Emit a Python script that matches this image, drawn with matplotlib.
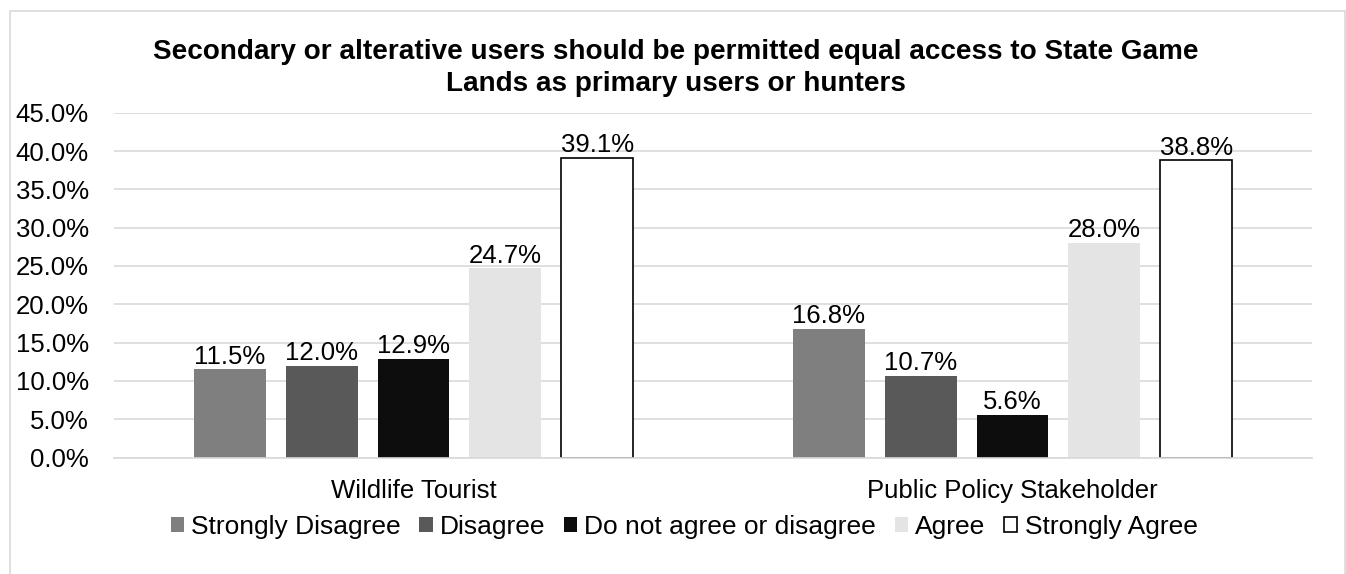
import numpy as np
import matplotlib
matplotlib.use("Agg")
import matplotlib.pyplot as plt
from matplotlib.patches import Rectangle

plt.rcParams['font.family'] = ['Liberation Sans', 'DejaVu Sans']

# survey responses (% of respondents)
groups = ['Wildlife Tourist', 'Public Policy Stakeholder']
responses = ['Strongly Disagree', 'Disagree', 'Do not agree or disagree',
             'Agree', 'Strongly Agree']
strongly_disagree = [11.5, 16.8]
disagree = [12.0, 10.7]
neutral = [12.9, 5.6]
agree = [24.7, 28.0]
strongly_agree = [39.1, 38.8]
y_ticks = [0, 5, 10, 15, 20, 25, 30, 35, 40, 45]

series = [strongly_disagree, disagree, neutral, agree, strongly_agree]
fills = ['#7f7f7f', '#595959', '#0d0d0d', '#e4e4e4', 'white']
edges = ['none', 'none', 'none', 'none', 'black']

W, H = 1346, 574
fig = plt.figure(figsize=(W / 100, H / 100), dpi=100)
ax = fig.add_axes([114 / W, 1 - 457.5 / H, (1312 - 114) / W, (457.5 - 112.7) / H])

x = np.arange(len(groups))
width = 0.120
step = 0.1533
for i, (vals, fc, ec) in enumerate(zip(series, fills, edges)):
    pos = x + (i - 2) * step
    bars = ax.bar(pos, vals, width, color=fc, edgecolor=ec,
                  linewidth=1.2 if ec != 'none' else 0,
                  label=responses[i], zorder=3)
    for b, v in zip(bars, vals):
        ax.annotate(f'{v:.1f}%', (b.get_x() + b.get_width() / 2, v),
                    xytext=(0, 4), textcoords='offset points',
                    ha='center', va='baseline', fontsize=18.5, zorder=4)

ax.set_xlim(-0.5, 1.5)
ax.set_ylim(0, 45)
ax.set_yticks(y_ticks)
ax.set_yticklabels([f'{t:.1f}%' for t in y_ticks])
ax.set_xticks(x)
ax.set_xticklabels(groups)
ax.tick_params(axis='y', length=0, pad=18, labelsize=18.5)
ax.tick_params(axis='x', length=0, pad=15.5, labelsize=18.5)
ax.grid(axis='y', color='#d9d9d9', linewidth=1.2, zorder=0)
for s in ['top', 'right', 'left']:
    ax.spines[s].set_visible(False)
ax.spines['bottom'].set_color('#d9d9d9')
ax.spines['bottom'].set_linewidth(1.2)
ax.spines['bottom'].set_zorder(5)

fig.text(676 / W, 1 - 39 / H,
         'Secondary or alterative users should be permitted equal access to State Game\n'
         'Lands as primary users or hunters',
         ha='center', va='top', fontsize=20.1, fontweight='bold', linespacing=1.31)

fig.legend(loc='center', bbox_to_anchor=(684 / W, 1 - 527 / H), ncol=5,
           frameon=False, fontsize=19, handlelength=0.51, handleheight=0.51,
           handletextpad=0.27, columnspacing=0.7, borderpad=0)

# light chart-area border
fig.patches.append(Rectangle((10 / W, -0.02), (1345 - 10) / W, 1.02 - 11 / H,
                             transform=fig.transFigure, fill=False,
                             edgecolor='#d9d9d9', linewidth=1.2))

fig.savefig('out.png', dpi=100)
